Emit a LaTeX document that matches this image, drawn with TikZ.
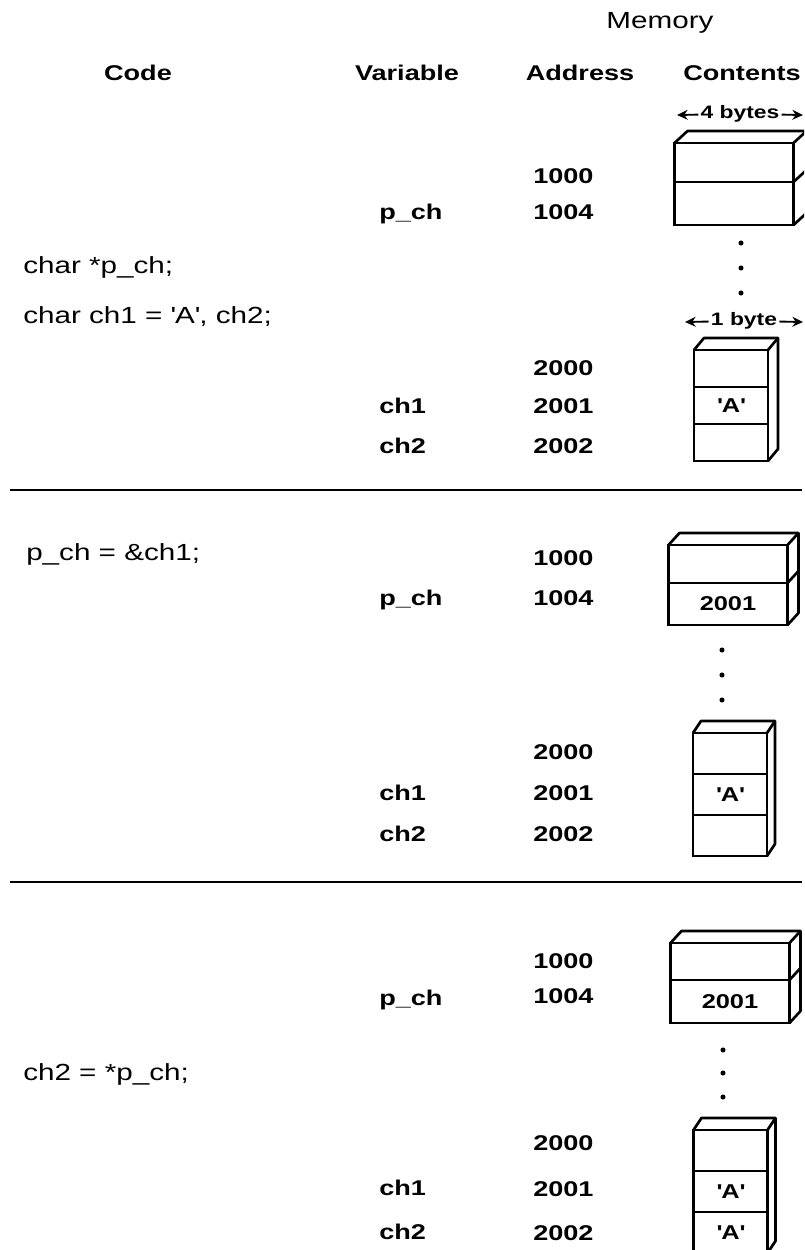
\documentclass[tikz,border=0pt]{standalone}
\usepackage{fontspec}
\setmainfont{Liberation Sans}[FakeStretch=1.27]
\usetikzlibrary{arrows.meta, positioning}

\begin{document}
\begin{tikzpicture}[x=0.75pt, y=-0.75pt,
  hdr/.style={font=\fontsize{16}{18}\selectfont\bfseries, inner sep=0pt, anchor=mid},
  lbl/.style={font=\fontsize{16}{18}\selectfont\bfseries, inner sep=0pt, anchor=mid west},
  code/.style={font=\fontsize{17.5}{20}\selectfont, inner sep=0pt, anchor=mid west},
  bytes/.style={font=\fontsize{13.5}{15}\selectfont\bfseries, inner sep=1.5pt, anchor=mid},
  wide/.style={draw, line width=2pt, outer sep=0pt, inner sep=0pt, minimum width=89.25pt,
               font=\fontsize{15}{17}\selectfont\bfseries},
  narrow/.style={draw, line width=2pt, outer sep=0pt, inner sep=0pt, minimum width=55.5pt,
               font=\fontsize{15}{17}\selectfont\bfseries},
  face/.style={line width=2pt, line join=round},
  dot/.style={circle, fill, inner sep=0pt, minimum size=3.8pt},
  span/.style={-{Stealth[length=2.8mm, width=2.6mm]}, line width=1.4pt},
  sep/.style={line width=1.8pt}]
  \fill[white] (0,0) rectangle (804,1250);
  \useasboundingbox (0,0) rectangle (804,1250);
  \clip (0,0) rectangle (804,1250);

  % headings
  \node[code, anchor=mid] (mem) at (660,25) {Memory};
  \node[hdr] (hcode) at (138,77) {Code};
  \node[hdr] (hvar) at (407,77) {Variable};
  \node[hdr] (haddr) at (580,77) {Address};
  \node[hdr] (hcont) at (742,77) {Contents};
  \node[bytes] (w4) at (740,115) {4 bytes};
  \coordinate (w4l) at (677,115);
  \coordinate (w4r) at (803,115);
  \draw[span] (w4) -- (w4l);
  \draw[span] (w4) -- (w4r);

  % declarations
  \node[wide, minimum height=29.25pt] (p1a) at (734,162.5) {};
  \node[wide, minimum height=32.25pt, below=0pt of p1a] (p1b) {};
  \draw[face] (p1a.north west) -- ++(13,-12) -- ([shift={(13,-12)}]p1a.north east)
    -- ([shift={(13,-12)}]p1b.south east) -- (p1b.south east);
  \draw[face] (p1a.north east) -- ++(13,-12);
  \draw[face] (p1a.south east) -- ++(13,-12);
  \node[lbl] (a1a) at (533,180) {1000};
  \node[lbl] (a1b) at (533,216) {1004};
  \node[lbl] (v1p) at (379,216) {p\_ch};
  \node[dot] (d1a) at (741,243) {};
  \node[dot] (d1b) at (741,268) {};
  \node[dot] (d1c) at (741,293) {};
  \node[code] (k1a) at (23,270) {char *p\_ch;};
  \node[code] (k1b) at (23,320) {char ch1 = \textquotesingle A\textquotesingle, ch2;};
  \node[bytes] (w1) at (744,322) {1 byte};
  \coordinate (w1l) at (685,322);
  \coordinate (w1r) at (803,322);
  \draw[span] (w1) -- (w1l);
  \draw[span] (w1) -- (w1r);
  \node[narrow, minimum height=27.75pt] (c1a) at (731,368.5) {};
  \node[narrow, minimum height=27.75pt, below=0pt of c1a] (c1b) {\textquotesingle A\textquotesingle};
  \node[narrow, minimum height=27.75pt, below=0pt of c1b] (c1c) {};
  \draw[face] (c1a.north west) -- ++(10,-12) -- ([shift={(10,-12)}]c1a.north east)
    -- ([shift={(10,-12)}]c1c.south east) -- (c1c.south east);
  \draw[face] (c1a.north east) -- ++(10,-12);
  \node[lbl] (a1c) at (533,372) {2000};
  \node[lbl] (a1d) at (533,410) {2001};
  \node[lbl] (a1e) at (533,450) {2002};
  \node[lbl] (v1c) at (379,410) {ch1};
  \node[lbl] (v1d) at (379,450) {ch2};
  \coordinate (s1l) at (10,490);
  \coordinate (s1r) at (802,490);
  \draw[sep] (s1l) -- (s1r);

  % p_ch = &ch1
  \node[code] (k2a) at (26,557) {p\_ch = \&ch1;};
  \node[wide, minimum height=28.5pt] (p2a) at (728,564) {};
  \node[wide, minimum height=31.5pt, below=0pt of p2a] (p2b) {2001};
  \draw[face] (p2a.north west) -- ++(11,-12) -- ([shift={(11,-12)}]p2a.north east)
    -- ([shift={(11,-12)}]p2b.south east) -- (p2b.south east);
  \draw[face] (p2a.north east) -- ++(11,-12);
  \draw[face] (p2a.south east) -- ++(11,-12);
  \node[lbl] (a2a) at (533,562) {1000};
  \node[lbl] (a2b) at (533,602) {1004};
  \node[lbl] (v2p) at (379,602) {p\_ch};
  \node[dot] (d2a) at (722,650) {};
  \node[dot] (d2b) at (722,675) {};
  \node[dot] (d2c) at (722,700) {};
  \node[narrow, minimum height=30.75pt] (c2a) at (730,753.5) {};
  \node[narrow, minimum height=30.75pt, below=0pt of c2a] (c2b) {\textquotesingle A\textquotesingle};
  \node[narrow, minimum height=30.75pt, below=0pt of c2b] (c2c) {};
  \draw[face] (c2a.north west) -- ++(8,-12) -- ([shift={(8,-12)}]c2a.north east)
    -- ([shift={(8,-12)}]c2c.south east) -- (c2c.south east);
  \draw[face] (c2a.north east) -- ++(8,-12);
  \node[lbl] (a2c) at (533,756) {2000};
  \node[lbl] (a2d) at (533,797) {2001};
  \node[lbl] (a2e) at (533,838) {2002};
  \node[lbl] (v2c) at (379,797) {ch1};
  \node[lbl] (v2d) at (379,838) {ch2};
  \coordinate (s2l) at (10,882);
  \coordinate (s2r) at (802,882);
  \draw[sep] (s2l) -- (s2r);

  % ch2 = *p_ch
  \node[wide, minimum height=27.75pt] (p3a) at (730,961.5) {};
  \node[wide, minimum height=32.25pt, below=0pt of p3a] (p3b) {2001};
  \draw[face] (p3a.north west) -- ++(11,-12) -- ([shift={(11,-12)}]p3a.north east)
    -- ([shift={(11,-12)}]p3b.south east) -- (p3b.south east);
  \draw[face] (p3a.north east) -- ++(11,-12);
  \draw[face] (p3a.south east) -- ++(11,-12);
  \node[lbl] (a3a) at (533,965) {1000};
  \node[lbl] (a3b) at (533,1000) {1004};
  \node[lbl] (v3p) at (379,1002) {p\_ch};
  \node[code] (k3a) at (23,1077) {ch2 = *p\_ch;};
  \node[dot] (d3a) at (723,1050) {};
  \node[dot] (d3b) at (723,1073) {};
  \node[dot] (d3c) at (723,1097) {};
  \node[narrow, minimum height=30.75pt] (c3a) at (730.5,1150.5) {};
  \node[narrow, minimum height=30.75pt, below=0pt of c3a] (c3b) {\textquotesingle A\textquotesingle};
  \node[narrow, minimum height=30.75pt, below=0pt of c3b] (c3c) {\textquotesingle A\textquotesingle};
  \draw[face] (c3a.north west) -- ++(8,-12) -- ([shift={(8,-12)}]c3a.north east)
    -- ([shift={(8,-12)}]c3c.south east) -- (c3c.south east);
  \draw[face] (c3a.north east) -- ++(8,-12);
  \node[lbl] (a3c) at (533,1147) {2000};
  \node[lbl] (a3d) at (533,1193) {2001};
  \node[lbl] (a3e) at (533,1237) {2002};
  \node[lbl] (v3c) at (379,1192) {ch1};
  \node[lbl] (v3d) at (379,1236) {ch2};
\end{tikzpicture}
\end{document}
